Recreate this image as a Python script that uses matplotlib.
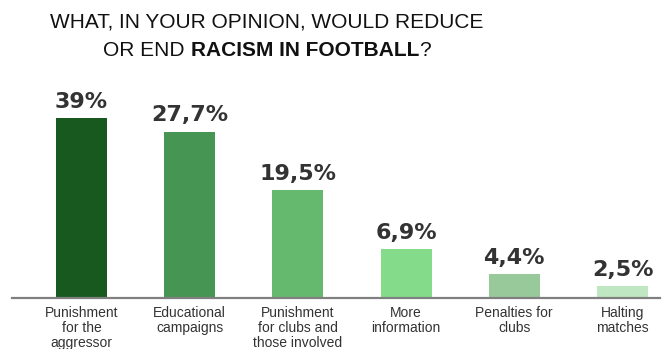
import matplotlib
matplotlib.use("Agg")
import matplotlib.pyplot as plt

categories = ["Punishment\nfor the\naggressor", "Educational\ncampaigns",
              "Punishment\nfor clubs and\nthose involved", "More\ninformation",
              "Penalties for\nclubs", "Halting\nmatches"]
value_labels = ["39%", "27,7%", "19,5%", "6,9%", "4,4%", "2,5%"]
# bar heights as drawn in the picture (in % units)
bar_heights = [39, 36.0, 23.4, 10.6, 5.2, 2.6]
colors = ["#17591f", "#479552", "#65b96f", "#84dc8b", "#98c99b", "#bfe7c2"]

W, H = 662, 349
fig = plt.figure(figsize=(W / 100, H / 100), dpi=100)
fig.patch.set_facecolor("white")

ax_left, ax_right = 12, 660
base_y = 298
ax_top = 58
ax = fig.add_axes([ax_left / W, (H - base_y) / H, (ax_right - ax_left) / W, (base_y - ax_top) / H])
px_per_unit = 180 / 39
ax.set_ylim(0, (base_y - ax_top) / px_per_unit)
spacing = 108.2
ax.set_xlim(-(81.5 - ax_left) / spacing, 5 + (ax_right - 622.5) / spacing)

x = list(range(len(categories)))
ax.bar(x, bar_heights, width=51 / spacing, color=colors, zorder=2)

for xi, h, lab in zip(x, bar_heights, value_labels):
    ax.annotate(lab, xy=(xi, h), xytext=(0, 7.5), textcoords="offset points",
                ha="center", va="baseline", fontsize=16, fontweight="bold",
                color="#333333", family="DejaVu Sans")

for s in ["top", "right", "left"]:
    ax.spines[s].set_visible(False)
ax.spines["bottom"].set_color("#808080")
ax.spines["bottom"].set_linewidth(1.6)
ax.set_yticks([])
ax.set_xticks(x)
ax.set_xticklabels(categories, fontsize=10, color="#333333", family="Liberation Sans",
                   linespacing=1.07)
ax.tick_params(axis="x", length=0, pad=6)

# Title
cx = 267 / W
fig.text(cx, 1 - 22 / H, "WHAT, IN YOUR OPINION, WOULD REDUCE", ha="center", va="center",
         fontsize=15, family="Liberation Sans", color="#111111")
parts = [("OR END ", "normal"), ("RACISM IN FOOTBALL", "bold"), ("?", "normal")]
y2 = 1 - 50 / H
texts = []
for s, wgt in parts:
    t = fig.text(0, y2, s, ha="left", va="center", fontsize=15, fontweight=wgt,
                 family="Liberation Sans", color="#111111")
    texts.append(t)
fig.canvas.draw()
r = fig.canvas.get_renderer()
widths = [t.get_window_extent(r).width for t in texts]
total = sum(widths)
start = cx * W - total / 2
for t, w in zip(texts, widths):
    t.set_x(start / W)
    start += w

fig.savefig("out.png", dpi=100)
